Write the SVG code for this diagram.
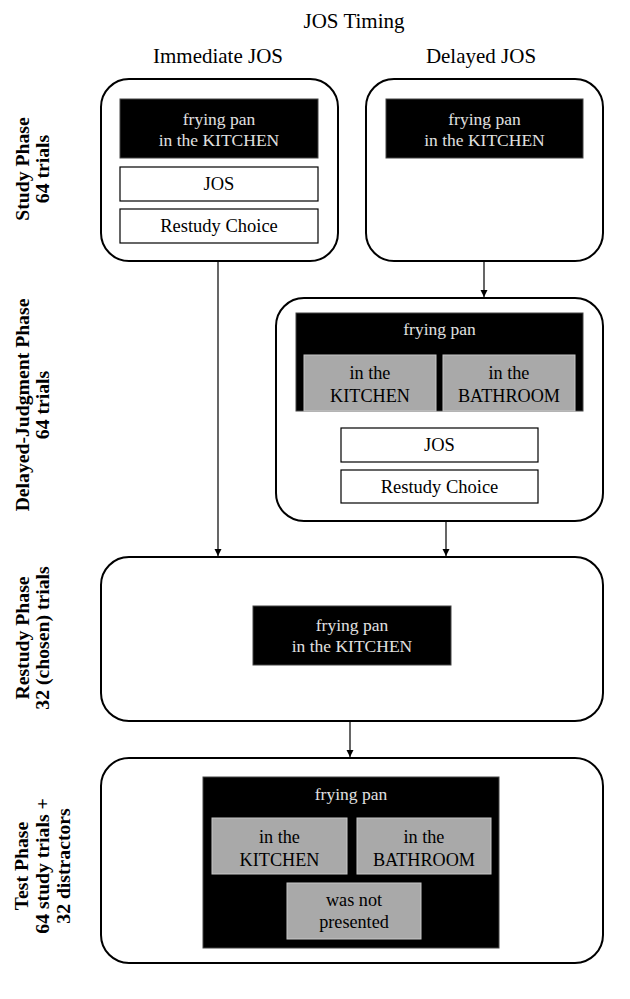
<svg xmlns="http://www.w3.org/2000/svg" width="630" height="999" viewBox="0 0 630 999">
<defs>
<style>
text{font-family:"Liberation Serif","Times New Roman",serif;text-anchor:middle;}
.hdr{font-size:21px;fill:#000;}
.side{font-size:19.7px;font-weight:bold;fill:#000;}
.phase{fill:#fff;stroke:#000;stroke-width:2;}
.blk{fill:#000;stroke:#444;stroke-width:1;}
.wt{font-size:17.5px;fill:#e0e0e0;}
.box{fill:#fff;stroke:#000;stroke-width:1.2;}
.bt{font-size:18.5px;fill:#000;}
.gray{fill:#a9a9a9;stroke:#c8c8c8;stroke-width:1;}
.gt{font-size:18.2px;fill:#000;}
.conn{stroke:#000;stroke-width:1.2;fill:none;marker-end:url(#ah);}
</style>
<marker id="ah" viewBox="0 0 10 10" refX="10" refY="5" markerWidth="7" markerHeight="8" markerUnits="userSpaceOnUse" orient="auto">
<path d="M0,0 L10,5 L0,10 z" fill="#000"/>
</marker>
</defs>
<rect width="630" height="999" fill="#fff"/>
<g id="headers">
<text class="hdr" x="354" y="28">JOS Timing</text>
<text class="hdr" x="218" y="63">Immediate JOS</text>
<text class="hdr" x="481" y="63">Delayed JOS</text>
</g>
<g id="side-labels">
<text class="side" transform="translate(29,169) rotate(-90)">Study Phase</text>
<text class="side" transform="translate(49,169) rotate(-90)">64 trials</text>
<text class="side" transform="translate(29,405) rotate(-90)">Delayed-Judgment Phase</text>
<text class="side" transform="translate(49,405) rotate(-90)">64 trials</text>
<text class="side" transform="translate(29,638) rotate(-90)">Restudy Phase</text>
<text class="side" transform="translate(49,638) rotate(-90)">32 (chosen) trials</text>
<text class="side" transform="translate(28,866) rotate(-90)">Test Phase</text>
<text class="side" transform="translate(49,866) rotate(-90)">64 study trials +</text>
<text class="side" transform="translate(70,866) rotate(-90)">32 distractors</text>
</g>
<g id="connectors">
<line class="conn" x1="218" y1="261" x2="218" y2="556"/>
<line class="conn" x1="484" y1="261" x2="484" y2="297"/>
<line class="conn" x1="446" y1="521" x2="446" y2="556"/>
<line class="conn" x1="350" y1="721" x2="350" y2="757"/>
</g>
<g id="study-immediate">
<rect class="phase" x="101" y="79" width="237" height="182" rx="28"/>
<rect class="blk" x="120" y="99" width="198" height="59"/>
<text class="wt" x="219" y="125">frying pan</text>
<text class="wt" x="219" y="146">in the KITCHEN</text>
<rect class="box" x="120" y="167" width="198" height="34"/>
<text class="bt" x="219" y="190">JOS</text>
<rect class="box" x="120" y="209" width="198" height="34"/>
<text class="bt" x="219" y="232">Restudy Choice</text>
</g>
<g id="study-delayed">
<rect class="phase" x="366" y="79" width="237" height="182" rx="28"/>
<rect class="blk" x="386" y="99" width="197" height="59"/>
<text class="wt" x="484.5" y="125">frying pan</text>
<text class="wt" x="484.5" y="146">in the KITCHEN</text>
</g>
<g id="delayed-judgment">
<rect class="phase" x="276" y="298" width="327" height="223" rx="28"/>
<rect class="blk" x="296" y="313" width="287" height="98"/>
<text class="wt" x="439.5" y="335">frying pan</text>
<rect class="gray" x="304" y="355" width="132" height="56"/>
<text class="gt" x="370" y="379">in the</text>
<text class="gt" x="370" y="402">KITCHEN</text>
<rect class="gray" x="443" y="355" width="132" height="56"/>
<text class="gt" x="509" y="379">in the</text>
<text class="gt" x="509" y="402">BATHROOM</text>
<rect class="box" x="341" y="428" width="197" height="34"/>
<text class="bt" x="439.5" y="451">JOS</text>
<rect class="box" x="341" y="470" width="197" height="33"/>
<text class="bt" x="439.5" y="493">Restudy Choice</text>
</g>
<g id="restudy">
<rect class="phase" x="101" y="557" width="502" height="164" rx="28"/>
<rect class="blk" x="253" y="606" width="198" height="59"/>
<text class="wt" x="352" y="631">frying pan</text>
<text class="wt" x="352" y="652">in the KITCHEN</text>
</g>
<g id="test">
<rect class="phase" x="101" y="758" width="502" height="205" rx="28"/>
<rect class="blk" x="203" y="777" width="296" height="171"/>
<text class="wt" x="351" y="800">frying pan</text>
<rect class="gray" x="212" y="818" width="135" height="56"/>
<text class="gt" x="279.5" y="843">in the</text>
<text class="gt" x="279.5" y="866">KITCHEN</text>
<rect class="gray" x="357" y="818" width="134" height="56"/>
<text class="gt" x="424" y="843">in the</text>
<text class="gt" x="424" y="866">BATHROOM</text>
<rect class="gray" x="287" y="883" width="134" height="56"/>
<text class="gt" x="354" y="906">was not</text>
<text class="gt" x="354" y="928">presented</text>
</g>
</svg>
